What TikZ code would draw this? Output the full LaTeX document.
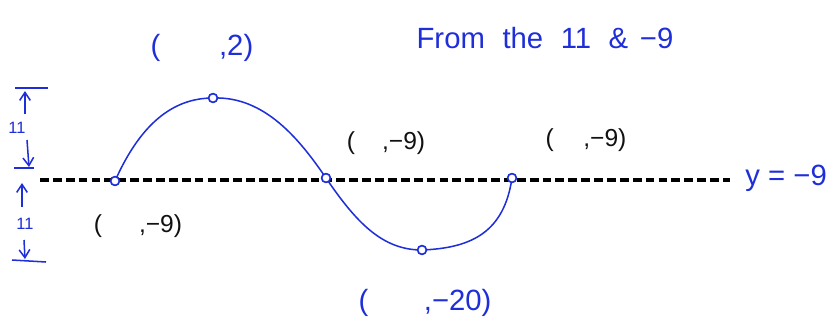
\documentclass[tikz,border=0pt]{standalone}
\usepackage{fontspec}
\setmainfont{Liberation Sans}
\usepackage{tikz}
\usetikzlibrary{arrows.meta,positioning}
\definecolor{penblue}{HTML}{1E2ED8}
\definecolor{penblack}{HTML}{111111}

\begin{document}
\begin{tikzpicture}[
  x=0.3mm,y=-0.3mm,
  pt/.style={circle,draw=penblue,fill=white,line width=1.3pt,inner sep=0pt,minimum size=2.6mm},
  bluelbl/.style={text=penblue,font=\fontsize{25}{28}\selectfont,inner sep=1pt},
  blacklbl/.style={text=penblack,font=\fontsize{21}{24}\selectfont,inner sep=1pt},
  midline/.style={draw=black,line width=2.7pt,dash pattern=on 7.5pt off 3.5pt},
  wave/.style={draw=penblue,line width=1.3pt},
  arr/.style={-{Straight Barb[length=2.4mm,width=3.2mm]},draw=penblue,line width=1.3pt},
  bar/.style={draw=penblue,line width=1.3pt}
]
\useasboundingbox (0,0) rectangle (835,326);

\coordinate (ml-l) at (40,180);
\coordinate (ml-r) at (730,180);
\draw[midline] (ml-l) -- (ml-r);

\node[pt] (start) at (115,181) {};
\node[pt] (peak) at (213,98) {};
\node[pt] (cross) at (326,178) {};
\node[pt] (trough) at (422,250) {};
\node[pt] (finish) at (512,178) {};

\draw[wave] (start.center) .. controls (140,125) and (172,98) .. (peak.center)
  .. controls (265,96) and (300,140) .. (cross.center)
  .. controls (356,222) and (382,250) .. (trough.center)
  .. controls (472,248) and (504,232) .. (finish.center);
\foreach \p in {start,peak,cross,trough,finish}
  \node[pt] at (\p) {};

% coordinates of the points
\node[bluelbl] (peaklbl) at (202,48) {(\hspace{2em},2)};
\node[blacklbl] (crosslbl) at (386,143) {(\hspace{1.1em},−9)};
\node[blacklbl] (finishlbl) at (586,140) {(\hspace{1.2em},−9)};
\node[blacklbl] (startlbl) at (138,226) {(\hspace{1.5em},−9)};
\node[bluelbl] (troughlbl) at (425,303) {(\hspace{1.9em},−20)};
\node[bluelbl] (note) at (545,38) {From\hspace{0.6em}the\hspace{0.6em}11\hspace{0.6em}\&\hspace{0.4em}−9};
\node[bluelbl,anchor=west] (yeq) at (744,178) {y = −9};

% amplitude marks
\coordinate (bar1-l) at (15,88);
\coordinate (bar1-r) at (48,88);
\coordinate (bar2-l) at (14,168);
\coordinate (bar2-r) at (34,168);
\coordinate (bar3-l) at (12,260);
\coordinate (bar3-r) at (46,262);
\draw[bar] (bar1-l) -- (bar1-r);
\draw[bar] (bar2-l) -- (bar2-r);
\draw[bar] (bar3-l) -- (bar3-r);
\node[bluelbl,font=\fontsize{14}{16}\selectfont] (amp1) at (17,128) {11};
\node[bluelbl,font=\fontsize{14}{16}\selectfont] (amp2) at (25,224) {11};
\coordinate (up1-s) at (25,114);
\coordinate (up1-e) at (25,91);
\coordinate (dn1-s) at (27,140);
\coordinate (dn1-e) at (29,167);
\coordinate (up2-s) at (22,207);
\coordinate (up2-e) at (22,183);
\coordinate (dn2-s) at (24,240);
\coordinate (dn2-e) at (25,259);
\draw[arr] (up1-s) -- (up1-e);
\draw[arr] (dn1-s) -- (dn1-e);
\draw[arr] (up2-s) -- (up2-e);
\draw[arr] (dn2-s) -- (dn2-e);
\end{tikzpicture}
\end{document}
